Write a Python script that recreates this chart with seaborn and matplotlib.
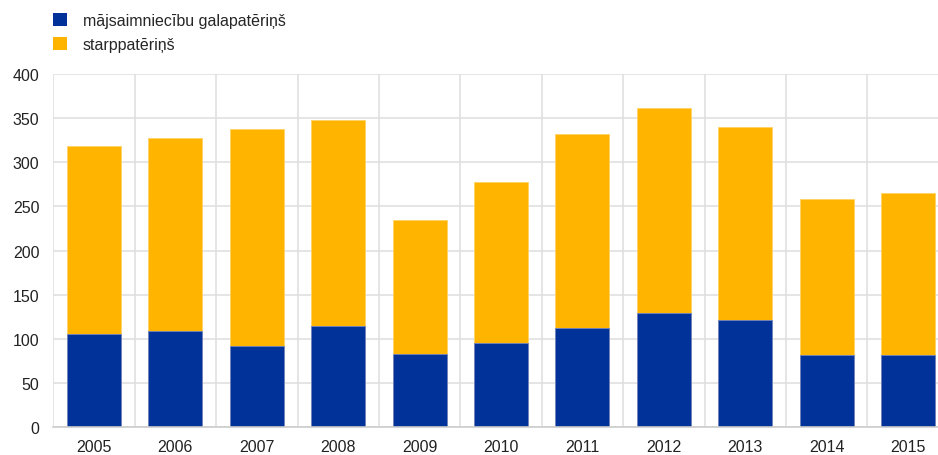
import matplotlib
matplotlib.use("Agg")
import matplotlib.pyplot as plt
import seaborn as sns
import pandas as pd
from matplotlib.patches import Patch

years = ["2005", "2006", "2007", "2008", "2009", "2010", "2011", "2012", "2013", "2014", "2015"]
household = [105, 109, 92, 115, 83, 95.5, 112, 129.5, 121, 81.5, 81.5]
total = [318.5, 327, 338, 348, 234.5, 278, 332, 362, 340, 258.5, 265.5]
labels = ["mājsaimniecību galapatēriņš", "starppatēriņš"]
blue = "#003299"
yellow = "#FFB400"

sns.set_theme(style="white")
plt.rcParams["font.family"] = ["Liberation Sans", "DejaVu Sans"]

df = pd.DataFrame({"year": years, "household": household, "total": total})

fig = plt.figure(figsize=(9.38, 4.56), dpi=100)
left = 53.3 / 938
width = (948.7 - 53.3) / 938
bottom = (456 - 428) / 456
height = (428 - 75) / 456
ax = fig.add_axes([left, bottom, width, height])

sns.barplot(data=df, x="year", y="total", color=yellow, width=0.665, ax=ax,
            saturation=1, edgecolor="#FFD266", linewidth=0.6)
sns.barplot(data=df, x="year", y="household", color=blue, width=0.665, ax=ax,
            saturation=1, edgecolor="#6F86C6", linewidth=0.6)

ax.set_ylim(0, 400)
ax.set_xlim(-0.5, len(years) - 0.5)
ax.set_yticks(range(0, 401, 50))
ax.set_xlabel("")
ax.set_ylabel("")
ax.set_axisbelow(True)
ax.yaxis.grid(True, color="#E0E0E0", linewidth=1.2)
ax.set_xticks([i + 0.5 for i in range(-1, len(years))], minor=True)
ax.xaxis.grid(True, which="minor", color="#E0E0E0", linewidth=1.2)
ax.xaxis.grid(False, which="major")
for s in ["top", "right", "left"]:
    ax.spines[s].set_visible(False)
ax.spines["bottom"].set_color("#CCCCCC")
ax.spines["bottom"].set_linewidth(1.2)
ax.tick_params(axis="both", which="both", length=0, labelsize=11.5, colors="#222222")
ax.tick_params(axis="x", pad=9)
ax.tick_params(axis="y", pad=10)

handles = [Patch(facecolor=blue, edgecolor="none"), Patch(facecolor=yellow, edgecolor="none")]
fig.legend(handles, labels, loc="upper left", bbox_to_anchor=(47 / 938, 1 - 8 / 456),
           frameon=False, fontsize=11.5, handlelength=0.85, handleheight=0.85,
           handletextpad=1.0, labelspacing=0.55, borderaxespad=0)

fig.savefig("out.png", dpi=100)
